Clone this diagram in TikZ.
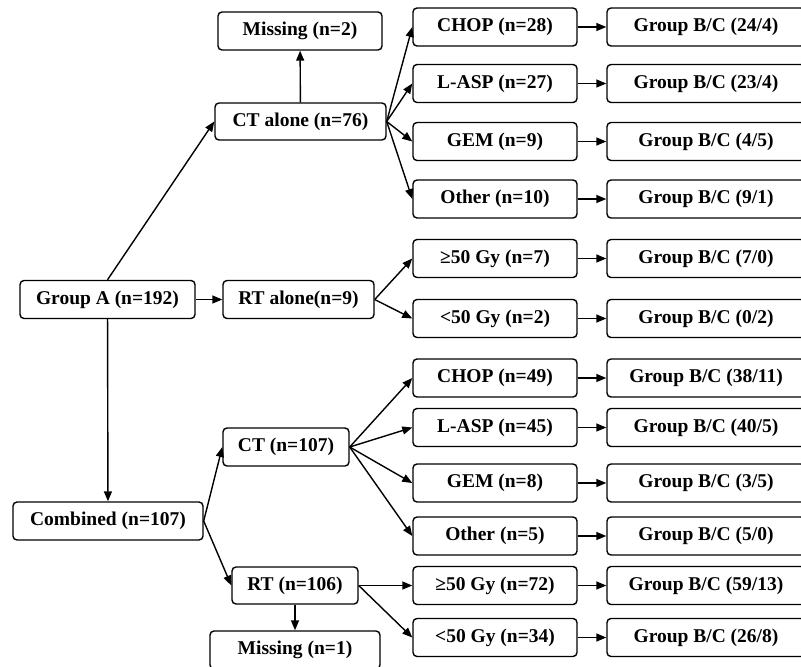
\documentclass[tikz,border=0pt]{standalone}
\usepackage{fontspec}
\setmainfont{Liberation Serif}
\usetikzlibrary{arrows.meta}

\begin{document}
\begin{tikzpicture}[x=1pt, y=-1pt,
    box/.style={draw, rounded corners=4pt, line width=1.4pt, inner sep=0pt,
      minimum height=38pt, font=\fontsize{19.5}{22}\selectfont\bfseries},
    arr/.style={line width=1.4pt, -{Triangle[length=10pt,width=8pt]}}]
  \useasboundingbox (0,0) rectangle (801,667);
  \clip (0,0) rectangle (801,667);

  % Left side
  \node[box, minimum width=175pt] (grpA) at (107.5,299.5) {Group A (n=192)};
  \node[box, minimum width=190pt] (comb) at (108,521) {Combined (n=107)};
  \node[box, minimum width=171pt, minimum height=37pt] (ctal) at (300.5,121.5) {CT alone (n=76)};
  \node[box, minimum width=164pt] (miss2) at (300,31) {Missing (n=2)};
  \node[box, minimum width=151pt] (rtal) at (298.5,299.5) {RT alone(n=9)};
  \node[box, minimum width=126pt] (ct) at (286,447) {CT (n=107)};
  \node[box, minimum width=126pt, minimum height=37pt] (rt) at (295,585.5) {RT (n=106)};
  \node[box, minimum width=170pt] (miss1) at (295,650) {Missing (n=1)};

  \draw[arr] (grpA.north) -- (ctal.west);
  \draw[arr] (grpA) -- (rtal);
  \draw[arr] (grpA) -- (comb);
  \draw[arr] (ctal) -- (miss2);
  \draw[arr] (comb.east) -- (ct.west);
  \draw[arr] (comb.east) -- (rt.west);
  \draw[arr] (rt) -- (miss1);

  % Treatment column
  \begin{scope}[every node/.append style={box, minimum width=164pt}]
    \node (chopA) at (495,27) {CHOP (n=28)};
    \node (laspA) at (495,83.5) {L-ASP (n=27)};
    \node (gemA) at (495,141.5) {GEM (n=9)};
    \node (othA) at (495,199) {Other (n=10)};
    \node (hiA) at (495,258.5) {≥50 Gy (n=7)};
    \node (loA) at (495,318.5) {<50 Gy (n=2)};
    \node (chopB) at (495,378) {CHOP (n=49)};
    \node (laspB) at (495,427.5) {L-ASP (n=45)};
    \node (gemB) at (495,483) {GEM (n=8)};
    \node (othB) at (495,536) {Other (n=5)};
    \node (hiB) at (495,585.5) {≥50 Gy (n=72)};
    \node (loB) at (495,637.5) {<50 Gy (n=34)};
  \end{scope}

  \foreach \t in {chopA, laspA, gemA, othA}
    \draw[arr] (ctal.east) -- (\t.west);
  \foreach \t in {hiA, loA}
    \draw[arr] (rtal.east) -- (\t.west);
  \foreach \t in {chopB, laspB, gemB, othB}
    \draw[arr] (ct.east) -- (\t.west);
  \foreach \t in {hiB, loB}
    \draw[arr] (rt.east) -- (\t.west);

  % Outcome column
  \begin{scope}[every node/.append style={box, minimum width=198pt}]
    \node (bcChopA) at (706,27) {Group B/C (24/4)};
    \node (bcLaspA) at (706,83.5) {Group B/C (23/4)};
    \node (bcGemA) at (706,141.5) {Group B/C (4/5)};
    \node (bcOthA) at (706,199) {Group B/C (9/1)};
    \node (bcHiA) at (706,258.5) {Group B/C (7/0)};
    \node (bcLoA) at (706,318.5) {Group B/C (0/2)};
    \node (bcChopB) at (706,378) {Group B/C (38/11)};
    \node (bcLaspB) at (706,427.5) {Group B/C (40/5)};
    \node (bcGemB) at (706,483) {Group B/C (3/5)};
    \node (bcOthB) at (706,536) {Group B/C (5/0)};
    \node (bcHiB) at (706,585.5) {Group B/C (59/13)};
    \node (bcLoB) at (706,637.5) {Group B/C (26/8)};
  \end{scope}

  \foreach \t/\o in {chopA/bcChopA, laspA/bcLaspA, gemA/bcGemA, othA/bcOthA,
      hiA/bcHiA, loA/bcLoA, chopB/bcChopB, laspB/bcLaspB, gemB/bcGemB,
      othB/bcOthB, hiB/bcHiB, loB/bcLoB}
    \draw[arr] (\t) -- (\o);
\end{tikzpicture}
\end{document}
